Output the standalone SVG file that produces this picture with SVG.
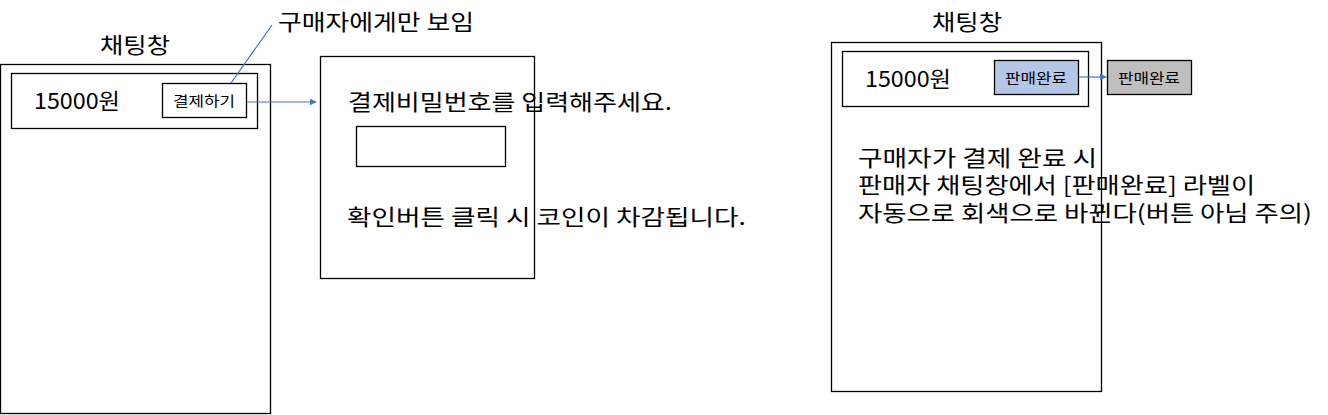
<svg xmlns="http://www.w3.org/2000/svg" width="1328" height="415" viewBox="0 0 1328 415">
<defs>
<style>
.box{fill:#fff;stroke:#000;stroke-width:1.3}
.t{font-family:"Malgun Gothic","Noto Sans CJK KR",sans-serif;fill:#000}
.big{font-size:22px}
.sm{font-size:14px}
.conn{stroke:#4472c4;stroke-width:1.2;fill:none}
</style>
<marker id="ah" viewBox="0 0 10 10" refX="9" refY="5" markerWidth="7" markerHeight="7" orient="auto" markerUnits="userSpaceOnUse">
<path d="M0,0 L10,5 L0,10 z" fill="#4472c4"/>
</marker>
</defs>
<rect width="1328" height="415" fill="#fff"/>

<g id="left-phone">
<text class="t big" x="100" y="53" textLength="70" lengthAdjust="spacingAndGlyphs">채팅창</text>
<rect class="box" x="0.5" y="64.5" width="270" height="349"/>
<rect class="box" x="11.5" y="73.5" width="246" height="55"/>
<text class="t big" x="34" y="109" textLength="86" lengthAdjust="spacingAndGlyphs">15000원</text>
</g>
<g id="pay-button">
<rect class="box" x="162.5" y="83.5" width="84" height="34"/>
<text class="t sm" x="173" y="106" textLength="62" lengthAdjust="spacingAndGlyphs">결제하기</text>
</g>
<g id="note-buyer">
<text class="t big" x="278" y="30" textLength="196" lengthAdjust="spacingAndGlyphs">구매자에게만 보임</text>
</g>
<g id="password-popup">
<rect class="box" x="320.5" y="56.5" width="214" height="222"/>
<text class="t big" x="348" y="110" textLength="324" lengthAdjust="spacingAndGlyphs">결제비밀번호를 입력해주세요.</text>
<rect class="box" x="356.5" y="126.5" width="149" height="40"/>
<text class="t big" x="347" y="225" textLength="399" lengthAdjust="spacingAndGlyphs">확인버튼 클릭 시 코인이 차감됩니다.</text>
</g>

<g id="right-phone">
<text class="t big" x="932" y="30" textLength="70" lengthAdjust="spacingAndGlyphs">채팅창</text>
<rect class="box" x="831.5" y="42.5" width="270" height="349"/>
<rect class="box" x="842.5" y="51.5" width="246" height="55"/>
<text class="t big" x="865" y="87" textLength="86" lengthAdjust="spacingAndGlyphs">15000원</text>
<text class="t big" x="858" y="166" textLength="239" lengthAdjust="spacingAndGlyphs">구매자가 결제 완료 시</text>
<text class="t big" x="858" y="193" textLength="397" lengthAdjust="spacingAndGlyphs">판매자 채팅창에서 [판매완료] 라벨이</text>
<text class="t big" x="858" y="221" textLength="454" lengthAdjust="spacingAndGlyphs">자동으로 회색으로 바뀐다(버튼 아님 주의)</text>
</g>
<g id="sold-label-blue">
<rect x="994.5" y="60.5" width="84" height="34" fill="#b4c7e7" stroke="#000" stroke-width="1.3"/>
<text class="t sm" x="1005" y="83" textLength="62" lengthAdjust="spacingAndGlyphs">판매완료</text>
</g>
<g id="sold-label-grey">
<rect x="1107.5" y="60.5" width="84" height="34" fill="#bfbfbf" stroke="#000" stroke-width="1.3"/>
<text class="t sm" x="1118" y="83" textLength="62" lengthAdjust="spacingAndGlyphs">판매완료</text>
</g>

<g id="connectors">
<line class="conn" x1="231" y1="83" x2="272" y2="25"/>
<line class="conn" x1="247" y1="102" x2="316" y2="102" marker-end="url(#ah)"/>
<line class="conn" x1="1079" y1="77" x2="1106" y2="77" marker-end="url(#ah)"/>
</g>
</svg>
